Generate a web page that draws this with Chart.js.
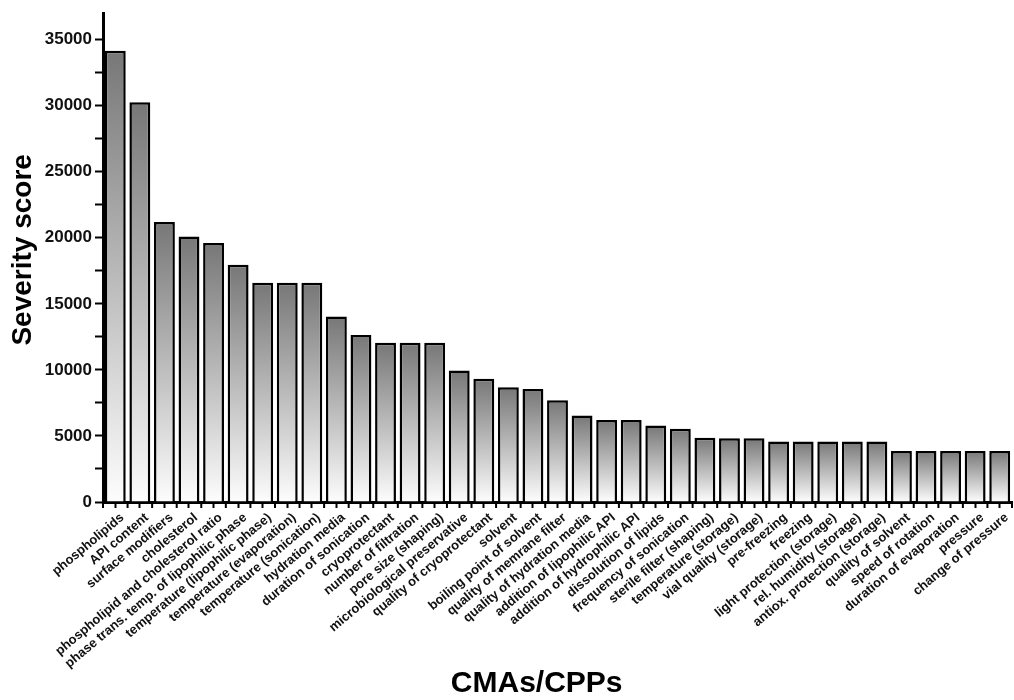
<!DOCTYPE html>
<html>
<head>
<meta charset="utf-8">
<script src="https://cdn.jsdelivr.net/npm/chart.js@4.4.1/dist/chart.umd.min.js"></script>
<style>
  html, body { margin: 0; padding: 0; background: #ffffff; }
  #wrap { width: 1014px; height: 700px; position: relative; }
</style>
</head>
<body>
<div id="wrap"><canvas id="c"></canvas></div>
<script>
const categories = [
  "phospholipids",
  "API content",
  "surface modifiers",
  "cholesterol",
  "phospholipid and cholesterol ratio",
  "phase trans. temp. of lipophilic phase",
  "temperature (lipophilic phase)",
  "temperature (evaporation)",
  "temperature (sonication)",
  "hydration media",
  "duration of sonication",
  "cryoprotectant",
  "number of filtration",
  "pore size (shaping)",
  "microbiological preservative",
  "quality of cryoprotectant",
  "solvent",
  "boiling point of solvent",
  "quality of memrane filter",
  "quality of hydration media",
  "addition of lipophilic API",
  "addition of hydrophilic API",
  "dissolution of lipids",
  "frequency of sonication",
  "sterile filter (shaping)",
  "temperature (storage)",
  "vial quality (storage)",
  "pre-freezing",
  "freezing",
  "light protection (storage)",
  "rel. humidity (storage)",
  "antiox. protection (storage)",
  "quality of solvent",
  "speed of rotation",
  "duration of evaporation",
  "pressure",
  "change of pressure"
];

const severityScores = [
  34150, 30250, 21200, 20100, 19600, 17950, 16600, 16600, 16600, 14050,
  12650, 12050, 12050, 12050, 9950, 9330, 8680, 8550, 7700, 6550,
  6200, 6200, 5800, 5550, 4870, 4820, 4820, 4580, 4580, 4580,
  4580, 4580, 3860, 3860, 3860, 3860, 3860
];

// labelled (major) ticks
const yTickValues = [0, 5000, 10000, 15000, 20000, 25000, 30000, 35000];
// all tick marks (major + minor)
const yTickMarks = [0, 2500, 5000, 7500, 10000, 12500, 15000, 17500, 20000,
                    22500, 25000, 27500, 30000, 32500, 35000];

const FONT = "'Liberation Sans', Arial, Helvetica, sans-serif";

const xMinorTicks = {
  id: 'xMinorTicks',
  afterDraw(chart) {
    const xs = chart.scales.x;
    const ctx = chart.ctx;
    const y0 = chart.chartArea.bottom;
    ctx.save();
    ctx.strokeStyle = '#000';
    ctx.lineWidth = 2;
    for (let i = 0; i <= categories.length; i++) {
      const px = xs.getPixelForValue(i - 0.5);
      ctx.beginPath();
      ctx.moveTo(px, y0);
      ctx.lineTo(px, y0 + 6);
      ctx.stroke();
    }
    ctx.restore();
  }
};

new Chart(document.getElementById('c'), {
  type: 'bar',
  data: {
    labels: categories,
    datasets: [{
      data: severityScores,
      borderColor: '#000000',
      borderWidth: 2.5,
      barPercentage: 0.85,
      categoryPercentage: 1.0,
      backgroundColor: (c) => {
        const chart = c.chart;
        if (!chart.chartArea || c.raw === undefined) return '#999999';
        const ys = chart.scales.y;
        const top = ys.getPixelForValue(c.raw);
        const bot = ys.getPixelForValue(0);
        const g = chart.ctx.createLinearGradient(0, top, 0, bot);
        g.addColorStop(0, '#777777');
        g.addColorStop(1, '#fdfdfd');
        return g;
      }
    }]
  },
  options: {
    responsive: true,
    maintainAspectRatio: false,
    animation: false,
    layout: { padding: { left: 0, right: 2, top: 0, bottom: 0 } },
    plugins: {
      legend: { display: false },
      tooltip: { enabled: false }
    },
    scales: {
      x: {
        type: 'category',
        offset: true,
        grid: {
          display: true,
          drawOnChartArea: false,
          drawTicks: true,
          tickLength: 6,
          tickWidth: 2,
          tickColor: '#000',
          offset: false
        },
        border: { display: true, color: '#000', width: 3 },
        ticks: {
          autoSkip: false,
          maxRotation: 40,
          minRotation: 40,
          padding: 2,
          labelOffset: 7,
          color: '#111',
          font: { family: FONT, size: 13, weight: 'bold' }
        },
        title: {
          display: true,
          text: 'CMAs/CPPs\u00a0\u00a0\u00a0\u00a0\u00a0',
          color: '#000',
          font: { family: FONT, size: 30, weight: 'bold', lineHeight: 1 },
          padding: { top: 0, bottom: 1 }
        },
        afterFit: (scale) => { scale.height = 198; }
      },
      y: {
        min: 0,
        max: 37000,
        grid: {
          display: true,
          drawOnChartArea: false,
          drawTicks: true,
          tickLength: 8,
          tickWidth: 2,
          tickColor: '#000'
        },
        border: { display: true, color: '#000', width: 3 },
        ticks: {
          autoSkip: false,
          padding: 3,
          color: '#111',
          font: { family: FONT, size: 17, weight: 'bold' },
          callback: (v) => (yTickValues.includes(v) ? String(v) : '')
        },
        afterBuildTicks: (scale) => {
          scale.ticks = yTickMarks.map(v => ({ value: v }));
        },
        title: {
          display: true,
          text: '\u00a0\u00a0Severity score',
          color: '#000',
          font: { family: FONT, size: 28, weight: 'bold', lineHeight: 1 },
          padding: { top: 9, bottom: 0 }
        },
        afterFit: (scale) => { scale.width = 103; }
      }
    }
  },
  plugins: [xMinorTicks]
});
</script>
</body>
</html>
